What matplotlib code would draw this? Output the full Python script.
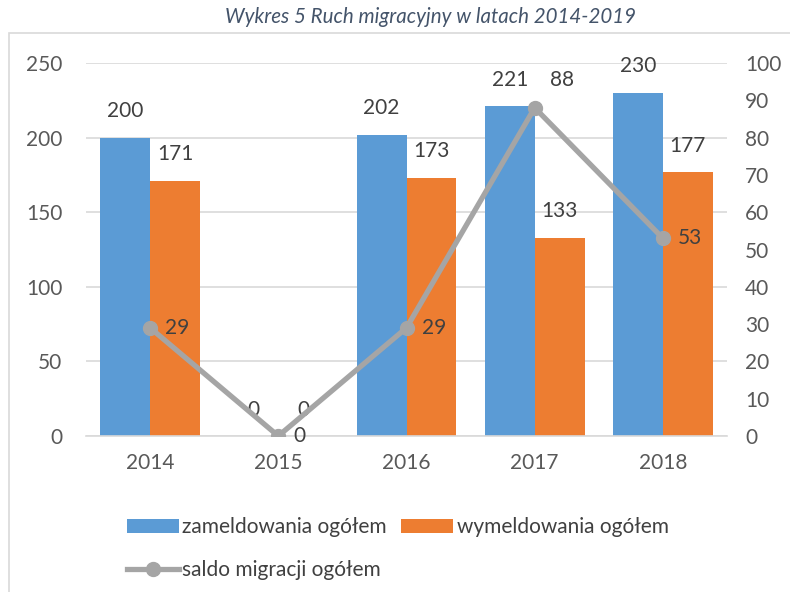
import matplotlib.pyplot as plt
from matplotlib.patches import Rectangle
import numpy as np

years = ["2014", "2015", "2016", "2017", "2018"]
zameldowania = [200, 0, 202, 221, 230]
wymeldowania = [171, 0, 173, 133, 177]
saldo = [29, 0, 29, 88, 53]

blue = "#5b9bd5"
orange = "#ed7d31"
gray = "#a5a5a5"
txt = "#404040"
tick_c = "#595959"
fs = 15

plt.rcParams['font.family'] = ['Lato', 'DejaVu Sans']

fig = plt.figure(figsize=(7.9, 5.92), dpi=100)
fig.patches.append(Rectangle((9/790, -0.1), 1.2, 1 - 33/592 + 0.1, transform=fig.transFigure,
                             fill=False, edgecolor="#d9d9d9", linewidth=1.2))
fig.text(0.545, 0.972, "Wykres 5 Ruch migracyjny w latach 2014-2019", ha="center", va="center",
         fontsize=14.8, style="italic", color="#44546a")

ax = fig.add_axes([86/790, 1 - 436/592, (727 - 86)/790, (436 - 63)/592])
ax2 = ax.twinx()

x = np.arange(len(years))
w = 0.39
b1 = ax.bar(x - w/2, zameldowania, w, color=blue, label="zameldowania ogółem", zorder=2)
b2 = ax.bar(x + w/2, wymeldowania, w, color=orange, label="wymeldowania ogółem", zorder=2)
ax.set_xlim(-0.5, 4.5)
ax.set_ylim(0, 250)
ax.set_yticks(range(0, 251, 50))
ax.set_xticks(x)
ax.set_xticklabels(years)
ax.grid(axis="y", color="#d9d9d9", linewidth=1.2, zorder=0)
ax.set_axisbelow(True)
for s in ["top", "right", "left"]:
    ax.spines[s].set_visible(False)
ax.spines["bottom"].set_color("#d9d9d9")
ax.spines["bottom"].set_linewidth(1.2)
ax.tick_params(length=0, labelsize=fs, labelcolor=tick_c)
ax.tick_params(axis="x", pad=12)
ax.tick_params(axis="y", pad=17)

for bars, vals in [(b1, zameldowania), (b2, wymeldowania)]:
    for r, v in zip(bars, vals):
        ax.annotate(str(v), (r.get_x() + r.get_width()/2, v), xytext=(0, 19), textcoords="offset points",
                    ha="center", va="center", fontsize=fs, color=txt)

ln, = ax2.plot(x, saldo, color=gray, linewidth=3.8, marker="o", markersize=10,
               label="saldo migracji ogółem", zorder=3)
ax2.set_ylim(0, 100)
ax2.set_yticks(range(0, 101, 10))
for s in ["top", "right", "left", "bottom"]:
    ax2.spines[s].set_visible(False)
ax2.tick_params(length=0, labelsize=fs, labelcolor=tick_c, pad=13)
for i, v in enumerate(saldo):
    dy = 20 if v == max(saldo) else 0
    ax2.annotate(str(v), (x[i], v), xytext=(11, dy), textcoords="offset points",
                 ha="left", va="center", fontsize=fs, color=txt)

fig.legend([b1, ln, b2], ["zameldowania ogółem", "saldo migracji ogółem", "wymeldowania ogółem"],
           ncol=2, loc="upper left", bbox_to_anchor=(0.137, 0.158), frameon=False,
           fontsize=fs, labelcolor=txt, handlelength=2.5, handleheight=0.7,
           handletextpad=0.15, columnspacing=0.7, labelspacing=1.1)

fig.savefig("out.png", dpi=100)
